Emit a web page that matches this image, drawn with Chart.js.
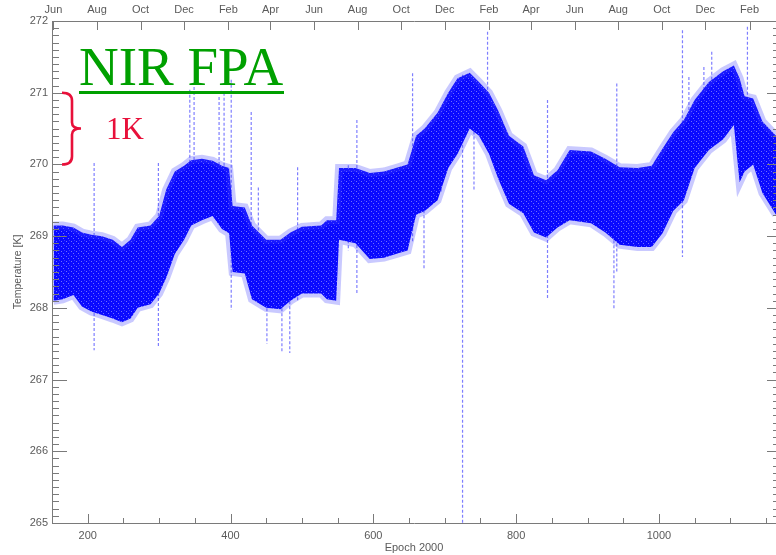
<!DOCTYPE html>
<html>
<head>
<meta charset="utf-8">
<title>NIR FPA temperature</title>
<script src="https://cdn.jsdelivr.net/npm/chart.js@4.4.1/dist/chart.umd.min.js"></script>
<style>
  body { margin: 0; background: #fff; }
  #wrap { position: relative; width: 776px; height: 555px; }
  .note { position: absolute; font-family: 'Liberation Serif', 'Times New Roman', serif; line-height: 1; white-space: nowrap; }
  #title { left: 79px; top: 39px; font-size: 55px; color: #00a000; }
  #rule { position: absolute; left: 79px; top: 91px; width: 205px; height: 3px; background: #00a000; }
  #scale { left: 106px; top: 113px; font-size: 31px; color: #e8103a; }
</style>
</head>
<body>
<div id="wrap">
  <canvas id="tempChart" width="776" height="555"></canvas>
  <div class="note" id="title">NIR FPA</div>
  <div id="rule"></div>
  <div class="note" id="scale">1K</div>
</div>
<script>
// dense band of the temperature trace (epoch 2000 days, upper / lower edge in K)
const bandEpoch = [152, 165, 180, 192, 205, 220, 235, 248, 260, 270, 288, 300, 310, 322, 335, 345, 360, 375, 388, 398,
  403, 420, 430, 450, 470, 484, 500, 527, 535, 548, 552, 575, 595, 615, 635, 648, 660, 672, 690, 705,
  718, 735, 748, 762, 775, 790, 810, 825, 842, 858, 875, 905, 925, 945, 970, 990, 1005, 1020, 1035, 1050,
  1070, 1090, 1105, 1113, 1120, 1132, 1145, 1164];
const bandHigh = [269.15, 269.15, 269.12, 269.05, 269.02, 269.00, 268.95, 268.85, 268.95, 269.12, 269.15, 269.28, 269.65, 269.90, 269.98, 270.06, 270.08, 270.05, 269.98, 269.95,
  269.42, 269.40, 269.15, 268.95, 268.95, 269.05, 269.13, 269.15, 269.22, 269.22, 269.95, 269.95, 269.88, 269.90, 269.96, 270.00, 270.40, 270.50, 270.72, 271.00,
  271.20, 271.28, 271.15, 271.00, 270.75, 270.40, 270.25, 269.85, 269.78, 269.92, 270.20, 270.18, 270.08, 269.96, 269.95, 269.98, 270.22, 270.45, 270.62, 270.90,
  271.15, 271.30, 271.38, 271.20, 270.95, 270.92, 270.60, 270.40];
const bandLow = [268.10, 268.12, 268.18, 268.02, 267.95, 267.90, 267.85, 267.80, 267.85, 268.00, 268.05, 268.20, 268.42, 268.75, 268.95, 269.15, 269.22, 269.28, 269.10, 269.04,
  268.50, 268.48, 268.12, 268.00, 267.98, 268.10, 268.20, 268.20, 268.12, 268.10, 268.95, 268.90, 268.68, 268.70, 268.76, 268.80, 269.30, 269.35, 269.50, 269.95,
  270.15, 270.50, 270.40, 270.15, 269.80, 269.45, 269.32, 269.05, 268.98, 269.12, 269.22, 269.18, 269.05, 268.88, 268.85, 268.85, 269.04, 269.35, 269.50, 269.95,
  270.20, 270.35, 270.55, 269.75, 269.90, 270.00, 269.60, 269.30];

// isolated excursions (vertical streaks)
const spikeEpoch = [209, 299, 343, 349, 384, 391, 401, 429, 439, 451, 472, 483, 494, 565, 577, 655, 671, 695, 725, 741,
  760, 844, 937, 941, 1033, 1042, 1063, 1074, 1124];
const spikeTop = [270.02, 270.02, 271.04, 271.08, 270.94, 271.00, 271.18, 270.73, 269.68, 268.90, 268.90, 269.00, 269.96, 269.99, 270.62, 271.27, 269.50, 270.50, 271.25, 270.60,
  271.85, 270.90, 269.50, 271.13, 271.87, 271.22, 271.36, 271.57, 271.92];
const spikeBottom = [267.41, 267.45, 269.30, 269.30, 269.40, 269.30, 267.97, 268.40, 268.50, 267.50, 267.37, 267.37, 268.10, 268.80, 268.20, 268.90, 268.53, 269.60, 265.00, 269.64,
  270.20, 268.13, 267.97, 268.50, 268.71, 269.80, 270.20, 270.30, 270.20];

// top axis: first day of every other month, epoch 2000
const monthEpoch = [152, 213, 274, 335, 397, 456, 517, 578, 639, 700, 762, 821, 882, 943, 1004, 1065, 1127];
const monthLabels = ['Jun', 'Aug', 'Oct', 'Dec', 'Feb', 'Apr', 'Jun', 'Aug', 'Oct', 'Dec', 'Feb', 'Apr', 'Jun', 'Aug', 'Oct', 'Dec', 'Feb'];

const axisColor = '#7a7a7a';
const labelColor = '#5a5a5a';
const labelFont = { family: "'Liberation Sans', Arial, sans-serif", size: 11 };

const isWhole = v => Math.abs(v - Math.round(v)) < 1e-6;

// speckled blue fill for the dense band
function speckle() {
  const c = document.createElement('canvas');
  c.width = 5; c.height = 5;
  const g = c.getContext('2d');
  g.fillStyle = 'rgb(10,10,255)';
  g.fillRect(0, 0, 5, 5);
  g.fillStyle = 'rgb(110,110,255)';
  g.fillRect(1, 1, 1, 1);
  g.fillRect(3, 3, 1, 1);
  g.fillStyle = 'rgb(60,60,255)';
  g.fillRect(4, 0, 1, 1);
  return g.createPattern(c, 'repeat');
}

// IDL style ticks drawn on the inside of the frame
const innerTicks = {
  id: 'innerTicks',
  afterDraw(chart) {
    const { ctx, chartArea: a, scales: { x, x2, y } } = chart;
    ctx.save();
    ctx.strokeStyle = axisColor;
    ctx.lineWidth = 1;
    ctx.beginPath();
    y.ticks.forEach(t => {
      const py = Math.round(y.getPixelForValue(t.value)) + 0.5;
      const major = isWhole(t.value);
      ctx.moveTo(a.left, py);
      ctx.lineTo(a.left + (major ? 15 : 7), py);
      ctx.moveTo(a.right, py);
      ctx.lineTo(a.right - (major ? 9 : 3), py);
    });
    x.ticks.forEach(t => {
      const px = Math.round(x.getPixelForValue(t.value)) + 0.5;
      ctx.moveTo(px, a.bottom);
      ctx.lineTo(px, a.bottom - (t.value % 200 === 0 ? 9 : 5));
    });
    x2.ticks.forEach(t => {
      const px = Math.round(x2.getPixelForValue(t.value)) + 0.5;
      ctx.moveTo(px, a.top);
      ctx.lineTo(px, a.top + 9);
    });
    ctx.stroke();

    // red brace marking one kelvin
    const y1 = y.getPixelForValue(271);
    const y0 = y.getPixelForValue(270);
    const mid = (y0 + y1) / 2;
    const bx = 62, sx = 72, tip = 81;
    ctx.strokeStyle = '#e8103a';
    ctx.lineWidth = 2.6;
    ctx.beginPath();
    ctx.moveTo(bx, y1);
    ctx.quadraticCurveTo(sx, y1, sx, y1 + 8);
    ctx.lineTo(sx, mid - 6);
    ctx.quadraticCurveTo(sx, mid, tip, mid);
    ctx.quadraticCurveTo(sx, mid, sx, mid + 6);
    ctx.lineTo(sx, y0 - 8);
    ctx.quadraticCurveTo(sx, y0, bx, y0);
    ctx.stroke();
    ctx.restore();
  }
};

const spikePoints = [];
spikeEpoch.forEach((e, i) => {
  spikePoints.push({ x: e, y: spikeTop[i] }, { x: e, y: spikeBottom[i] }, { x: e, y: null });
});

const ctx = document.getElementById('tempChart').getContext('2d');
new Chart(ctx, {
  type: 'line',
  data: {
    datasets: [{
      label: 'upper',
      data: bandEpoch.map((e, i) => ({ x: e, y: bandHigh[i] })),
      borderColor: 'rgba(60,60,255,0.28)',
      borderWidth: 8,
      backgroundColor: speckle(),
      fill: '+1',
      pointRadius: 0
    }, {
      label: 'lower',
      data: bandEpoch.map((e, i) => ({ x: e, y: bandLow[i] })),
      borderColor: 'rgba(60,60,255,0.28)',
      borderWidth: 8,
      fill: false,
      pointRadius: 0
    }, {
      label: 'spikes',
      data: spikePoints,
      borderColor: 'rgba(40,40,255,0.6)',
      borderWidth: 1.2,
      borderDash: [3, 2],
      spanGaps: false,
      fill: false,
      pointRadius: 0
    }]
  },
  options: {
    responsive: false,
    devicePixelRatio: 1,
    animation: false,
    layout: { padding: 0 },
    plugins: {
      legend: { display: false },
      tooltip: { enabled: false }
    },
    scales: {
      x: {
        type: 'linear',
        position: 'bottom',
        min: 150,
        max: 1164,
        afterFit: s => { s.height = 32; },
        border: { display: true, color: axisColor },
        grid: { display: false, drawTicks: false },
        ticks: {
          stepSize: 50,
          includeBounds: false,
          autoSkip: false,
          maxRotation: 0,
          padding: 6,
          color: labelColor,
          font: labelFont,
          callback: v => (v % 200 === 0 ? v : '')
        },
        title: {
          display: true,
          text: 'Epoch 2000',
          color: labelColor,
          font: labelFont,
          padding: { top: 1, bottom: 0 }
        }
      },
      x2: {
        type: 'linear',
        position: 'top',
        min: 150,
        max: 1164,
        afterFit: s => { s.height = 21; },
        afterBuildTicks: s => { s.ticks = monthEpoch.map(v => ({ value: v })); },
        border: { display: true, color: axisColor },
        grid: { display: false, drawTicks: false },
        ticks: {
          autoSkip: false,
          maxRotation: 0,
          padding: 4,
          color: labelColor,
          font: labelFont,
          callback: (v, i) => monthLabels[i]
        }
      },
      y: {
        min: 265,
        max: 272,
        afterFit: s => { s.width = 52; },
        border: { display: true, color: axisColor },
        grid: { display: false, drawTicks: false },
        ticks: {
          stepSize: 0.1,
          maxTicksLimit: 100,
          autoSkip: false,
          padding: 4,
          color: labelColor,
          font: labelFont,
          callback: v => (isWhole(v) ? Math.round(v) : '')
        },
        title: {
          display: true,
          text: 'Temperature [K]',
          color: labelColor,
          font: { family: "'Liberation Sans', Arial, sans-serif", size: 10.5 },
          padding: { top: 12, bottom: 0 }
        }
      }
    }
  },
  plugins: [innerTicks]
});
</script>
</body>
</html>
